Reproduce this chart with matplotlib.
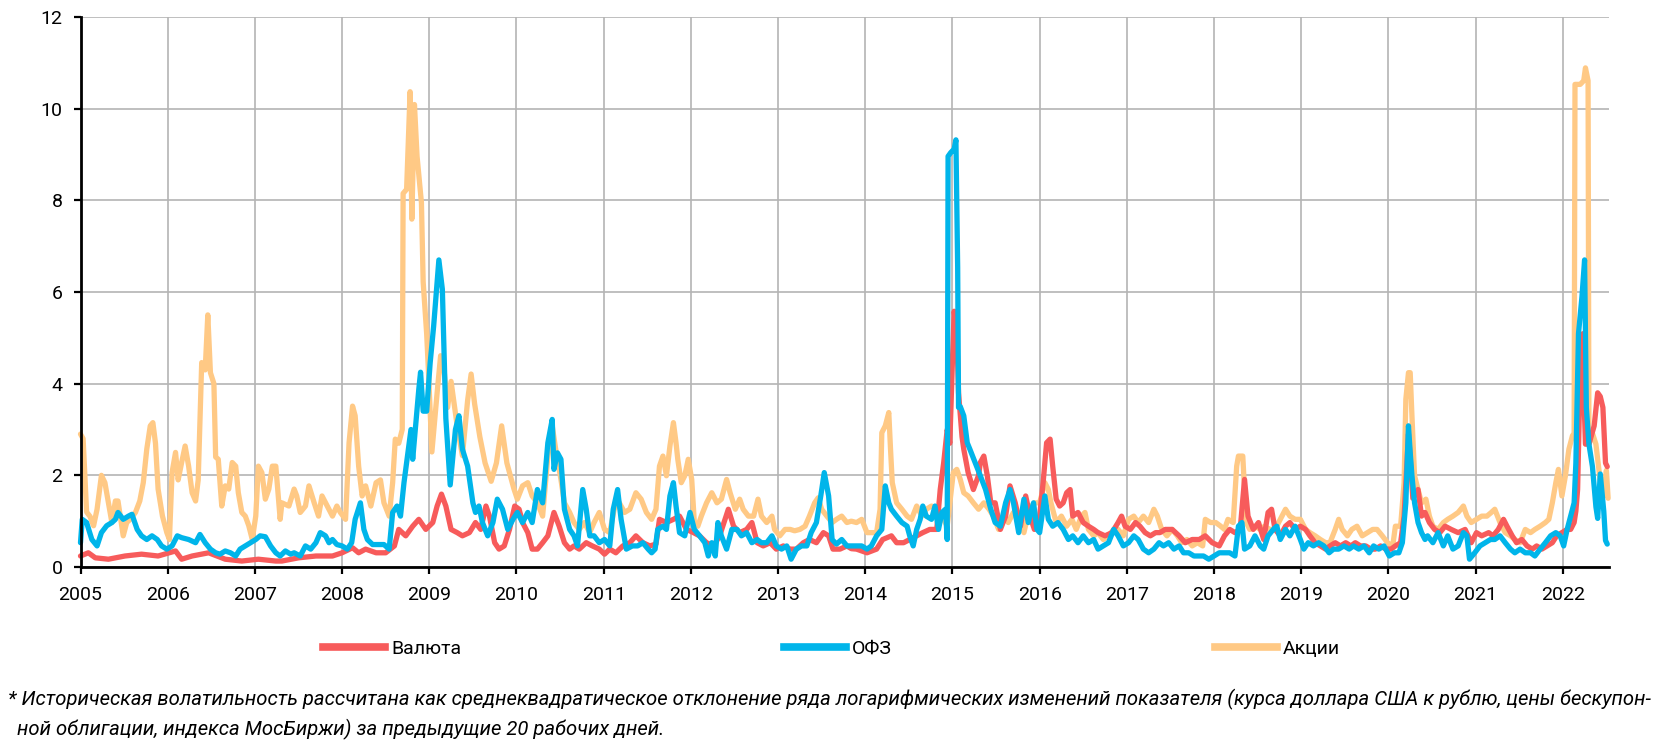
import matplotlib
matplotlib.use("Agg")
import matplotlib.pyplot as plt
from matplotlib.lines import Line2D

plt.rcParams['font.family'] = ['Roboto', 'DejaVu Sans']

# ---------------- data (decimal year, value) ----------------
series_names = ["Валюта", "ОФЗ", "Акции"]
year_ticks = list(range(2005, 2023))
y_ticks = [0, 2, 4, 6, 8, 10, 12]

valuta = [(2005.00,0.24),(2005.09,0.31),(2005.17,0.20),(2005.32,0.17),(2005.51,0.24),(2005.70,0.28),(2005.89,0.24),(2006.09,0.35),(2006.16,0.17),(2006.28,0.24),(2006.47,0.31),(2006.66,0.17),(2006.85,0.13),(2007.04,0.17),(2007.24,0.13),(2007.31,0.13),(2007.50,0.20),(2007.70,0.24),(2007.89,0.24),(2008.00,0.31),(2008.12,0.42),(2008.19,0.31),(2008.27,0.39),(2008.39,0.31),(2008.50,0.31),(2008.60,0.46),(2008.65,0.82),(2008.73,0.68),(2008.81,0.89),(2008.88,1.04),(2008.96,0.82),(2009.04,0.97),(2009.09,1.33),(2009.14,1.59),(2009.19,1.33),(2009.25,0.82),(2009.32,0.75),(2009.38,0.68),(2009.46,0.75),(2009.53,0.97),(2009.59,0.82),(2009.65,1.33),(2009.69,1.11),(2009.75,0.53),(2009.80,0.39),(2009.86,0.46),(2009.92,0.82),(2009.98,1.33),(2010.03,1.26),(2010.07,0.97),(2010.13,0.75),(2010.18,0.39),(2010.24,0.39),(2010.30,0.53),(2010.36,0.68),(2010.43,1.19),(2010.49,0.89),(2010.55,0.53),(2010.61,0.39),(2010.66,0.46),(2010.72,0.39),(2010.80,0.53),(2010.87,0.46),(2010.95,0.39),(2011.01,0.28),(2011.07,0.39),(2011.14,0.31),(2011.22,0.46),(2011.30,0.53),(2011.37,0.68),(2011.45,0.53),(2011.53,0.46),(2011.60,0.50),(2011.64,1.04),(2011.72,0.97),(2011.80,1.04),(2011.87,1.11),(2011.95,0.82),(2012.03,0.75),(2012.10,0.68),(2012.18,0.53),(2012.26,0.46),(2012.33,0.68),(2012.43,1.26),(2012.49,0.89),(2012.56,0.75),(2012.64,0.82),(2012.70,0.97),(2012.76,0.53),(2012.83,0.46),(2012.91,0.53),(2012.98,0.39),(2013.06,0.46),(2013.14,0.39),(2013.21,0.39),(2013.29,0.53),(2013.36,0.60),(2013.44,0.53),(2013.52,0.75),(2013.58,0.68),(2013.63,0.39),(2013.71,0.39),(2013.79,0.46),(2013.84,0.40),(2013.90,0.39),(2014.02,0.31),(2014.13,0.39),(2014.20,0.60),(2014.30,0.68),(2014.36,0.53),(2014.44,0.53),(2014.51,0.60),(2014.59,0.68),(2014.66,0.75),(2014.74,0.82),(2014.82,0.82),(2014.86,1.69),(2014.90,2.28),(2014.94,3.00),(2014.97,2.70),(2015.00,4.50),(2015.02,5.58),(2015.05,5.09),(2015.07,3.80),(2015.11,2.84),(2015.13,2.57),(2015.18,2.06),(2015.24,1.69),(2015.30,2.00),(2015.32,2.28),(2015.36,2.42),(2015.40,1.99),(2015.44,1.40),(2015.49,1.40),(2015.55,0.82),(2015.61,1.11),(2015.66,1.77),(2015.72,1.40),(2015.78,0.89),(2015.84,1.55),(2015.89,1.11),(2015.94,0.82),(2016.00,1.11),(2016.04,1.84),(2016.08,2.71),(2016.12,2.79),(2016.15,2.20),(2016.19,1.48),(2016.23,1.33),(2016.27,1.40),(2016.31,1.62),(2016.35,1.69),(2016.38,1.11),(2016.44,1.19),(2016.50,0.97),(2016.56,0.89),(2016.62,0.82),(2016.67,0.75),(2016.75,0.68),(2016.83,0.75),(2016.90,0.97),(2016.94,1.11),(2016.98,0.89),(2017.04,0.82),(2017.10,0.97),(2017.15,0.89),(2017.21,0.75),(2017.27,0.68),(2017.33,0.75),(2017.38,0.75),(2017.44,0.82),(2017.52,0.82),(2017.60,0.68),(2017.67,0.53),(2017.75,0.60),(2017.83,0.60),(2017.90,0.68),(2017.98,0.53),(2018.06,0.46),(2018.12,0.68),(2018.18,0.82),(2018.24,0.75),(2018.30,0.82),(2018.35,1.91),(2018.39,1.11),(2018.45,0.82),(2018.51,0.97),(2018.57,0.60),(2018.62,1.19),(2018.66,1.26),(2018.70,0.82),(2018.76,0.68),(2018.82,0.89),(2018.87,0.97),(2018.93,0.82),(2018.99,0.89),(2019.05,0.82),(2019.10,0.68),(2019.16,0.53),(2019.22,0.46),(2019.28,0.39),(2019.33,0.46),(2019.39,0.53),(2019.45,0.46),(2019.51,0.53),(2019.57,0.46),(2019.62,0.53),(2019.68,0.46),(2019.74,0.46),(2019.80,0.39),(2019.85,0.39),(2019.91,0.46),(2019.97,0.39),(2020.03,0.39),(2020.08,0.46),(2020.14,0.53),(2020.18,1.11),(2020.20,1.84),(2020.23,2.90),(2020.25,2.40),(2020.28,1.50),(2020.34,1.69),(2020.38,1.11),(2020.42,1.19),(2020.47,0.97),(2020.53,0.82),(2020.59,0.75),(2020.65,0.89),(2020.72,0.82),(2020.80,0.75),(2020.88,0.82),(2020.95,0.53),(2021.01,0.75),(2021.07,0.68),(2021.15,0.75),(2021.20,0.68),(2021.26,0.82),(2021.32,1.04),(2021.36,0.89),(2021.42,0.68),(2021.47,0.53),(2021.53,0.60),(2021.59,0.46),(2021.65,0.39),(2021.70,0.46),(2021.76,0.39),(2021.82,0.46),(2021.88,0.53),(2021.93,0.68),(2021.99,0.75),(2022.05,0.82),(2022.09,0.82),(2022.13,0.97),(2022.15,1.22),(2022.17,1.69),(2022.20,4.29),(2022.23,5.09),(2022.24,3.88),(2022.26,2.68),(2022.30,2.68),(2022.36,3.08),(2022.40,3.80),(2022.43,3.72),(2022.46,3.48),(2022.49,2.27),(2022.51,2.19)]

ofz = [(2005.00,0.53),(2005.02,1.04),(2005.07,0.97),(2005.13,0.60),(2005.19,0.46),(2005.24,0.75),(2005.30,0.90),(2005.36,0.97),(2005.40,1.04),(2005.43,1.19),(2005.49,1.04),(2005.55,1.11),(2005.59,1.15),(2005.65,0.82),(2005.70,0.68),(2005.76,0.60),(2005.82,0.68),(2005.88,0.60),(2005.93,0.46),(2005.99,0.39),(2006.05,0.46),(2006.11,0.68),(2006.16,0.64),(2006.24,0.60),(2006.32,0.53),(2006.37,0.71),(2006.43,0.53),(2006.49,0.39),(2006.55,0.31),(2006.60,0.28),(2006.66,0.35),(2006.72,0.31),(2006.78,0.24),(2006.83,0.39),(2006.89,0.46),(2006.95,0.53),(2007.01,0.60),(2007.06,0.68),(2007.12,0.66),(2007.18,0.46),(2007.24,0.31),(2007.29,0.24),(2007.35,0.35),(2007.41,0.28),(2007.45,0.31),(2007.52,0.24),(2007.58,0.46),(2007.64,0.39),(2007.70,0.53),(2007.75,0.75),(2007.81,0.68),(2007.85,0.53),(2007.89,0.60),(2007.94,0.49),(2008.00,0.46),(2008.06,0.39),(2008.11,0.53),(2008.15,1.04),(2008.21,1.40),(2008.25,0.82),(2008.29,0.60),(2008.35,0.49),(2008.42,0.49),(2008.48,0.49),(2008.54,0.39),(2008.58,1.19),(2008.63,1.33),(2008.67,1.11),(2008.71,1.84),(2008.75,2.42),(2008.79,3.00),(2008.81,2.35),(2008.84,3.00),(2008.88,3.88),(2008.90,4.25),(2008.93,3.40),(2008.97,3.40),(2009.01,4.45),(2009.05,5.25),(2009.09,6.22),(2009.11,6.70),(2009.15,6.06),(2009.17,4.69),(2009.19,3.24),(2009.24,1.79),(2009.30,3.00),(2009.34,3.30),(2009.38,2.57),(2009.44,2.20),(2009.50,1.40),(2009.53,1.19),(2009.57,1.33),(2009.61,0.97),(2009.67,0.68),(2009.73,0.97),(2009.78,1.48),(2009.84,1.26),(2009.90,0.82),(2009.96,1.04),(2010.01,1.19),(2010.07,0.97),(2010.13,1.19),(2010.18,0.97),(2010.24,1.69),(2010.30,1.40),(2010.36,2.71),(2010.41,3.22),(2010.43,2.13),(2010.47,2.49),(2010.51,2.35),(2010.55,1.26),(2010.61,0.82),(2010.66,0.68),(2010.70,0.46),(2010.76,1.69),(2010.80,1.26),(2010.84,0.68),(2010.89,0.68),(2010.95,0.53),(2011.01,0.60),(2011.07,0.46),(2011.11,1.26),(2011.16,1.69),(2011.20,1.04),(2011.26,0.39),(2011.33,0.46),(2011.39,0.46),(2011.45,0.53),(2011.51,0.39),(2011.55,0.31),(2011.59,0.39),(2011.62,0.82),(2011.68,0.89),(2011.72,0.82),(2011.76,1.55),(2011.80,1.84),(2011.83,1.33),(2011.87,0.75),(2011.93,0.68),(2011.99,1.19),(2012.04,0.82),(2012.10,0.68),(2012.16,0.53),(2012.20,0.24),(2012.24,0.53),(2012.28,0.24),(2012.31,0.97),(2012.35,0.68),(2012.41,0.39),(2012.47,0.82),(2012.53,0.82),(2012.58,0.68),(2012.64,0.75),(2012.70,0.53),(2012.76,0.60),(2012.81,0.53),(2012.87,0.53),(2012.93,0.68),(2012.98,0.46),(2013.04,0.39),(2013.10,0.46),(2013.15,0.17),(2013.21,0.39),(2013.27,0.46),(2013.33,0.46),(2013.38,0.75),(2013.44,0.97),(2013.49,1.55),(2013.53,2.06),(2013.58,1.55),(2013.62,0.60),(2013.67,0.50),(2013.73,0.60),(2013.79,0.46),(2013.84,0.46),(2013.90,0.46),(2013.96,0.46),(2014.02,0.39),(2014.07,0.46),(2014.13,0.68),(2014.19,0.82),(2014.23,1.77),(2014.27,1.40),(2014.30,1.26),(2014.36,1.11),(2014.42,0.97),(2014.48,0.89),(2014.51,0.68),(2014.55,0.46),(2014.59,0.82),(2014.63,1.04),(2014.66,1.33),(2014.70,1.11),(2014.76,1.04),(2014.80,1.33),(2014.84,0.82),(2014.88,1.19),(2014.92,1.26),(2014.94,0.60),(2014.95,8.96),(2014.98,9.04),(2015.02,9.12),(2015.04,9.32),(2015.06,6.54),(2015.07,3.48),(2015.09,3.50),(2015.13,3.30),(2015.17,2.71),(2015.20,2.57),(2015.26,2.28),(2015.32,1.99),(2015.38,1.69),(2015.44,1.26),(2015.49,0.97),(2015.55,0.89),(2015.61,1.40),(2015.66,1.69),(2015.70,1.40),(2015.76,0.75),(2015.82,1.48),(2015.87,0.97),(2015.93,1.40),(2015.97,0.82),(2016.00,0.75),(2016.06,1.55),(2016.10,1.04),(2016.15,0.89),(2016.21,0.97),(2016.27,0.82),(2016.33,0.60),(2016.38,0.68),(2016.44,0.53),(2016.50,0.68),(2016.56,0.53),(2016.62,0.60),(2016.67,0.39),(2016.73,0.46),(2016.79,0.53),(2016.85,0.82),(2016.90,0.68),(2016.96,0.46),(2017.02,0.53),(2017.08,0.68),(2017.13,0.60),(2017.19,0.39),(2017.25,0.31),(2017.31,0.39),(2017.37,0.53),(2017.42,0.46),(2017.48,0.53),(2017.54,0.39),(2017.60,0.46),(2017.65,0.31),(2017.71,0.31),(2017.77,0.24),(2017.83,0.24),(2017.88,0.24),(2017.94,0.17),(2018.00,0.24),(2018.06,0.31),(2018.12,0.31),(2018.18,0.31),(2018.24,0.24),(2018.28,0.89),(2018.32,0.97),(2018.35,0.39),(2018.41,0.46),(2018.47,0.68),(2018.53,0.46),(2018.57,0.39),(2018.62,0.68),(2018.68,0.82),(2018.72,0.89),(2018.76,0.60),(2018.82,0.82),(2018.87,0.68),(2018.93,0.89),(2018.99,0.60),(2019.03,0.39),(2019.08,0.53),(2019.14,0.46),(2019.20,0.53),(2019.26,0.46),(2019.32,0.31),(2019.37,0.39),(2019.43,0.39),(2019.49,0.46),(2019.55,0.39),(2019.60,0.46),(2019.66,0.39),(2019.72,0.46),(2019.78,0.31),(2019.83,0.46),(2019.89,0.39),(2019.95,0.46),(2020.01,0.24),(2020.07,0.31),(2020.12,0.31),(2020.16,0.53),(2020.20,1.40),(2020.23,3.08),(2020.25,2.50),(2020.27,1.99),(2020.30,1.40),(2020.34,0.97),(2020.38,0.75),(2020.42,0.60),(2020.45,0.68),(2020.51,0.53),(2020.57,0.75),(2020.63,0.46),(2020.68,0.68),(2020.74,0.39),(2020.80,0.46),(2020.86,0.75),(2020.90,0.68),(2020.93,0.17),(2020.99,0.31),(2021.05,0.46),(2021.11,0.53),(2021.17,0.60),(2021.22,0.60),(2021.28,0.68),(2021.34,0.53),(2021.40,0.39),(2021.45,0.31),(2021.51,0.39),(2021.57,0.31),(2021.63,0.31),(2021.68,0.24),(2021.74,0.39),(2021.80,0.53),(2021.86,0.68),(2021.92,0.75),(2021.97,0.68),(2022.01,0.46),(2022.05,0.82),(2022.09,1.11),(2022.13,1.40),(2022.15,2.27),(2022.18,5.09),(2022.22,5.90),(2022.25,6.70),(2022.27,3.48),(2022.30,2.68),(2022.34,2.19),(2022.38,1.31),(2022.40,1.06),(2022.43,2.03),(2022.47,1.22),(2022.49,0.58),(2022.51,0.50)]

akcii = [(2005.00,2.90),(2005.03,2.80),(2005.07,1.20),(2005.11,1.10),(2005.15,0.90),(2005.19,1.26),(2005.24,2.00),(2005.28,1.84),(2005.32,1.40),(2005.36,0.97),(2005.40,1.44),(2005.43,1.44),(2005.49,0.68),(2005.53,0.97),(2005.57,1.04),(2005.63,1.19),(2005.68,1.44),(2005.72,1.84),(2005.76,2.57),(2005.80,3.08),(2005.83,3.15),(2005.86,2.70),(2005.89,1.70),(2005.94,1.11),(2005.99,0.75),(2006.02,0.60),(2006.05,2.06),(2006.09,2.50),(2006.12,1.90),(2006.16,2.28),(2006.20,2.64),(2006.24,2.20),(2006.28,1.62),(2006.32,1.44),(2006.35,1.90),(2006.39,4.46),(2006.43,4.30),(2006.46,5.50),(2006.49,4.24),(2006.53,4.00),(2006.55,2.40),(2006.58,2.35),(2006.62,1.33),(2006.66,1.77),(2006.70,1.70),(2006.74,2.28),(2006.78,2.20),(2006.81,1.62),(2006.85,1.19),(2006.89,1.11),(2006.93,0.90),(2006.97,0.60),(2007.01,1.11),(2007.04,2.20),(2007.08,2.06),(2007.12,1.48),(2007.16,1.70),(2007.20,2.20),(2007.24,2.20),(2007.29,1.04),(2007.31,1.40),(2007.39,1.33),(2007.45,1.70),(2007.48,1.55),(2007.52,1.19),(2007.58,1.33),(2007.62,1.77),(2007.68,1.40),(2007.73,1.11),(2007.77,1.55),(2007.83,1.33),(2007.89,1.11),(2007.94,1.33),(2007.98,1.19),(2008.04,1.04),(2008.08,2.71),(2008.12,3.51),(2008.15,3.30),(2008.19,2.20),(2008.23,1.55),(2008.27,1.77),(2008.33,1.33),(2008.39,1.84),(2008.44,1.90),(2008.48,1.40),(2008.54,1.11),(2008.58,1.84),(2008.61,2.79),(2008.65,2.70),(2008.69,3.00),(2008.70,8.15),(2008.74,8.24),(2008.78,10.37),(2008.80,7.59),(2008.83,10.09),(2008.86,8.96),(2008.91,7.95),(2008.93,6.22),(2008.97,5.09),(2008.99,4.29),(2009.03,2.51),(2009.09,3.80),(2009.13,4.61),(2009.17,4.29),(2009.21,3.48),(2009.25,4.05),(2009.32,3.08),(2009.38,2.43),(2009.44,3.64),(2009.48,4.21),(2009.52,3.56),(2009.58,2.84),(2009.64,2.27),(2009.71,1.87),(2009.77,2.27),(2009.83,3.08),(2009.89,2.27),(2009.97,1.71),(2010.01,1.48),(2010.07,1.77),(2010.13,1.84),(2010.18,1.55),(2010.24,1.40),(2010.30,1.11),(2010.36,2.42),(2010.41,3.08),(2010.45,2.57),(2010.51,1.91),(2010.55,1.40),(2010.61,1.19),(2010.66,0.97),(2010.72,0.82),(2010.78,0.97),(2010.84,0.75),(2010.89,0.97),(2010.95,1.19),(2011.01,0.82),(2011.07,0.75),(2011.12,1.26),(2011.18,1.40),(2011.24,1.19),(2011.30,1.26),(2011.37,1.62),(2011.43,1.48),(2011.49,1.19),(2011.55,1.04),(2011.60,1.26),(2011.64,2.20),(2011.68,2.42),(2011.72,1.99),(2011.76,2.64),(2011.80,3.15),(2011.83,2.71),(2011.85,2.35),(2011.89,1.84),(2011.93,1.99),(2011.97,2.35),(2012.01,1.91),(2012.04,0.97),(2012.08,0.89),(2012.12,1.11),(2012.18,1.40),(2012.24,1.62),(2012.30,1.40),(2012.35,1.48),(2012.41,1.91),(2012.45,1.62),(2012.51,1.26),(2012.56,1.48),(2012.60,1.26),(2012.66,1.11),(2012.72,1.11),(2012.77,1.48),(2012.81,1.11),(2012.87,0.97),(2012.93,1.11),(2012.96,0.82),(2013.02,0.68),(2013.08,0.82),(2013.14,0.82),(2013.19,0.79),(2013.25,0.82),(2013.31,0.89),(2013.36,1.11),(2013.42,1.40),(2013.46,1.51),(2013.50,1.26),(2013.56,1.11),(2013.62,0.97),(2013.67,1.04),(2013.73,1.11),(2013.79,0.97),(2013.84,1.00),(2013.90,0.97),(2013.96,1.04),(2014.02,0.75),(2014.07,0.75),(2014.13,0.75),(2014.17,1.26),(2014.19,2.93),(2014.23,3.08),(2014.27,3.37),(2014.29,2.57),(2014.31,1.84),(2014.36,1.40),(2014.42,1.26),(2014.48,1.11),(2014.53,1.04),(2014.59,1.33),(2014.65,1.11),(2014.70,1.26),(2014.76,1.33),(2014.82,1.26),(2014.88,1.11),(2014.94,0.89),(2014.98,1.55),(2015.01,2.06),(2015.05,2.13),(2015.09,1.91),(2015.13,1.62),(2015.18,1.55),(2015.24,1.40),(2015.30,1.26),(2015.36,1.40),(2015.42,1.26),(2015.47,1.11),(2015.53,0.82),(2015.59,1.11),(2015.64,0.97),(2015.70,1.19),(2015.76,1.19),(2015.82,0.75),(2015.88,1.26),(2015.94,1.40),(2016.00,1.40),(2016.06,1.84),(2016.10,1.69),(2016.13,1.40),(2016.19,0.97),(2016.25,1.11),(2016.31,0.89),(2016.37,1.04),(2016.42,0.82),(2016.48,1.11),(2016.52,1.19),(2016.56,0.82),(2016.62,0.68),(2016.67,0.75),(2016.73,0.60),(2016.79,0.68),(2016.85,0.82),(2016.90,0.82),(2016.96,0.68),(2017.02,1.04),(2017.08,1.11),(2017.13,0.97),(2017.19,1.11),(2017.25,0.97),(2017.31,1.26),(2017.35,1.11),(2017.40,0.82),(2017.46,0.68),(2017.52,0.82),(2017.58,0.68),(2017.63,0.53),(2017.69,0.60),(2017.75,0.46),(2017.81,0.53),(2017.87,0.46),(2017.90,1.04),(2017.96,0.97),(2018.02,0.97),(2018.07,0.90),(2018.12,0.82),(2018.16,1.04),(2018.22,0.97),(2018.26,2.20),(2018.28,2.42),(2018.33,2.42),(2018.37,0.97),(2018.41,0.82),(2018.47,0.89),(2018.53,0.82),(2018.58,0.89),(2018.64,0.82),(2018.70,0.82),(2018.76,1.04),(2018.82,1.26),(2018.87,1.11),(2018.93,1.04),(2018.99,1.04),(2019.05,0.82),(2019.10,0.75),(2019.16,0.68),(2019.22,0.60),(2019.28,0.53),(2019.33,0.53),(2019.39,0.82),(2019.43,1.04),(2019.47,0.82),(2019.53,0.68),(2019.58,0.82),(2019.64,0.89),(2019.70,0.68),(2019.76,0.75),(2019.82,0.82),(2019.87,0.82),(2019.93,0.68),(2019.99,0.53),(2020.05,0.46),(2020.08,0.89),(2020.14,0.89),(2020.18,1.84),(2020.20,3.66),(2020.23,4.24),(2020.25,4.24),(2020.27,3.30),(2020.30,1.99),(2020.34,1.69),(2020.38,1.40),(2020.43,1.48),(2020.47,1.11),(2020.51,0.89),(2020.57,0.82),(2020.63,0.97),(2020.68,1.04),(2020.74,1.11),(2020.80,1.19),(2020.86,1.33),(2020.90,1.11),(2020.95,0.97),(2021.01,1.04),(2021.07,1.11),(2021.13,1.11),(2021.18,1.19),(2021.22,1.26),(2021.28,0.97),(2021.34,0.75),(2021.40,0.68),(2021.45,0.60),(2021.51,0.53),(2021.57,0.82),(2021.63,0.75),(2021.68,0.82),(2021.74,0.89),(2021.80,0.97),(2021.84,1.04),(2021.88,1.40),(2021.92,1.84),(2021.95,2.13),(2021.99,1.55),(2022.03,1.99),(2022.07,2.57),(2022.11,2.86),(2022.13,2.92),(2022.14,10.53),(2022.20,10.53),(2022.24,10.61),(2022.26,10.89),(2022.29,10.61),(2022.30,2.68),(2022.34,2.92),(2022.38,2.68),(2022.43,1.87),(2022.47,1.55),(2022.50,2.11),(2022.52,1.50)]

colors = {"Валюта": "#F75B5B", "ОФЗ": "#00B5EA", "Акции": "#FFC985"}

footnote_1 = ("* Историческая волатильность рассчитана как среднеквадратическое отклонение ряда логарифмических "
              "изменений показателя (курса доллара США к рублю, цены бескупон-")
footnote_2 = "ной облигации, индекса МосБиржи) за предыдущие 20 рабочих дней."

# ---------------- figure ----------------
W, H = 1661, 746
fig = plt.figure(figsize=(W / 100, H / 100), dpi=100)
left, right, top, bottom = 80.5, 1609, 17, 567
ax = fig.add_axes([left / W, 1 - bottom / H, (right - left) / W, (bottom - top) / H])

data = {"Валюта": valuta, "ОФЗ": ofz, "Акции": akcii}
zorders = {"Акции": 3, "Валюта": 4, "ОФЗ": 5}
handles = []
for name in series_names:
    xs = [p[0] for p in data[name]]
    ys = [p[1] for p in data[name]]
    ax.plot(xs, ys, color=colors[name], lw=3.8, zorder=zorders[name],
            solid_joinstyle='round', solid_capstyle='round', clip_on=False)
    handles.append(Line2D([0], [0], color=colors[name], lw=5.5))

ax.set_xlim(2005, 2022.53)
ax.set_ylim(0, 12)
ax.set_xticks(year_ticks)
ax.set_xticklabels([str(y) for y in year_ticks])
ax.set_yticks(y_ticks)
ax.set_yticklabels([str(v) for v in y_ticks])

ax.grid(True, color="#b4b4b4", lw=1.2, zorder=0)
ax.set_axisbelow(True)
for s in ("top", "right"):
    ax.spines[s].set_visible(False)
for s in ("left", "bottom"):
    ax.spines[s].set_color("black")
    ax.spines[s].set_linewidth(2.0)
    ax.spines[s].set_zorder(6)

ax.tick_params(axis="both", direction="out", length=5, width=1.6, color="black",
               labelsize=14, labelcolor="black")
ax.tick_params(axis="x", pad=9)
ax.tick_params(axis="y", pad=8)

fig.legend(handles, series_names, loc="center left", bbox_to_anchor=(323 / W, 1 - 649 / H),
           ncol=3, frameon=False, fontsize=14, handlelength=3.2, handletextpad=0.3,
           columnspacing=16.6, borderpad=0, borderaxespad=0)

fig.text(8 / W, 1 - 699 / H, footnote_1, fontsize=14.6, style="italic", va="center", ha="left")
fig.text(17 / W, 1 - 729 / H, footnote_2, fontsize=14.6, style="italic", va="center", ha="left")

fig.savefig("out.png", dpi=100)
